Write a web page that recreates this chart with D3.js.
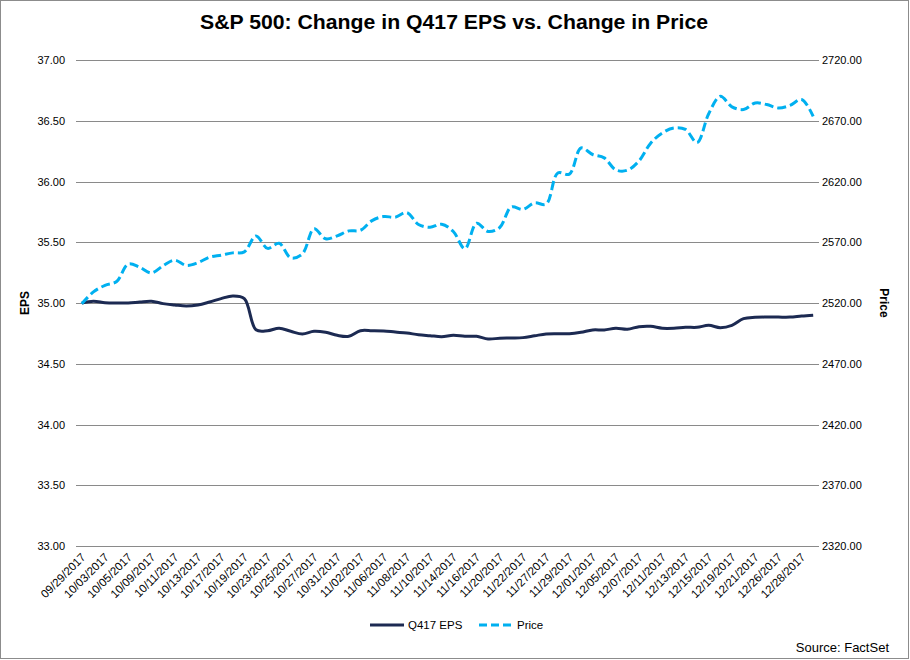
<!DOCTYPE html>
<html>
<head>
<meta charset="utf-8">
<script src="https://cdn.jsdelivr.net/npm/d3@7"></script>
<style>
  html, body { margin: 0; padding: 0; background: #fff; }
  svg { display: block; font-family: "Liberation Sans", Arial, sans-serif; }
</style>
</head>
<body>
<svg id="chart" width="910" height="660"></svg>
<script>
const dates = ["09/29/2017","10/02/2017","10/03/2017","10/04/2017","10/05/2017","10/06/2017","10/09/2017","10/10/2017","10/11/2017","10/12/2017","10/13/2017","10/16/2017","10/17/2017","10/18/2017","10/19/2017","10/20/2017","10/23/2017","10/24/2017","10/25/2017","10/26/2017","10/27/2017","10/30/2017","10/31/2017","11/01/2017","11/02/2017","11/03/2017","11/06/2017","11/07/2017","11/08/2017","11/09/2017","11/10/2017","11/13/2017","11/14/2017","11/15/2017","11/16/2017","11/17/2017","11/20/2017","11/21/2017","11/22/2017","11/24/2017","11/27/2017","11/28/2017","11/29/2017","11/30/2017","12/01/2017","12/04/2017","12/05/2017","12/06/2017","12/07/2017","12/08/2017","12/11/2017","12/12/2017","12/13/2017","12/14/2017","12/15/2017","12/18/2017","12/19/2017","12/20/2017","12/21/2017","12/22/2017","12/26/2017","12/27/2017","12/28/2017","12/29/2017"];

const eps = [35.00,35.014,35.003,35.00,35.00,35.008,35.014,34.995,34.984,34.975,34.984,35.008,35.036,35.058,35.036,34.78,34.772,34.792,34.767,34.745,34.767,34.759,34.734,34.726,34.772,34.772,34.77,34.761,34.753,34.739,34.731,34.723,34.734,34.726,34.726,34.704,34.71,34.712,34.715,34.73,34.745,34.747,34.747,34.759,34.778,34.778,34.792,34.784,34.805,34.808,34.792,34.792,34.80,34.80,34.816,34.797,34.816,34.871,34.882,34.884,34.884,34.884,34.893,34.90];

const price = [2519.36,2529.12,2534.58,2537.74,2552.07,2549.33,2544.73,2550.64,2555.24,2550.93,2553.17,2557.64,2559.36,2561.26,2562.10,2575.21,2564.98,2569.13,2557.15,2560.40,2581.07,2572.83,2575.26,2579.36,2579.85,2587.84,2591.13,2590.64,2594.38,2584.62,2582.30,2584.84,2578.87,2564.62,2585.64,2578.85,2582.14,2599.03,2597.08,2602.42,2601.42,2627.04,2626.07,2647.58,2642.22,2639.44,2629.57,2629.27,2636.98,2651.50,2659.99,2664.11,2662.85,2652.01,2675.81,2690.16,2681.47,2679.25,2684.57,2683.34,2680.50,2682.62,2687.54,2673.61];

const epsTicks = [33.00,33.50,34.00,34.50,35.00,35.50,36.00,36.50,37.00];
const priceTicks = [2320,2370,2420,2470,2520,2570,2620,2670,2720];

const title = "S&P 500: Change in Q417 EPS vs. Change in Price";
const seriesNames = ["Q417 EPS", "Price"];
const sourceText = "Source: FactSet";

const svg = d3.select("#chart");
const L = 76, R = 819, T = 60, B = 546;
const navy = "#1c2a52", blue = "#00b0f0";

// frame
svg.append("rect").attr("x",0.5).attr("y",0.5).attr("width",908).attr("height",658)
  .attr("fill","#fff").attr("stroke","#8c8c8c").attr("stroke-width",1);

const x = d3.scalePoint().domain(dates).range([L, R]).padding(0.5);
const yL = d3.scaleLinear().domain([33, 37]).range([B, T]);
const yR = d3.scaleLinear().domain([2320, 2720]).range([B, T]);

// gridlines
svg.append("g").selectAll("line").data(epsTicks).join("line")
  .attr("x1", L).attr("x2", R)
  .attr("y1", d => Math.round(yL(d)) + 0.5).attr("y2", d => Math.round(yL(d)) + 0.5)
  .attr("stroke", "#8a8a8a").attr("stroke-width", 1);

// left axis
const gL = svg.append("g").attr("transform", `translate(${L - 11},0)`)
  .call(d3.axisLeft(yL).tickValues(epsTicks).tickFormat(d3.format(".2f")).tickSize(0).tickPadding(0));
gL.select(".domain").remove();
gL.selectAll("text").attr("font-size", 11).attr("fill", "#000").attr("font-family", "Liberation Sans, Arial, sans-serif");

// right axis
const gR = svg.append("g").attr("transform", `translate(${R + 3},0)`)
  .call(d3.axisRight(yR).tickValues(priceTicks).tickFormat(d3.format(".2f")).tickSize(0).tickPadding(0));
gR.select(".domain").remove();
gR.selectAll("text").attr("font-size", 11).attr("fill", "#000").attr("font-family", "Liberation Sans, Arial, sans-serif");

// bottom axis
const labelDates = dates.filter((d, i) => i % 2 === 0);
const gB = svg.append("g").attr("transform", `translate(0,${B})`)
  .call(d3.axisBottom(x).tickValues(labelDates).tickSize(0).tickPadding(0));
gB.select(".domain").remove();
gB.selectAll("text")
  .attr("font-size", 11.5).attr("fill", "#000").attr("font-family", "Liberation Sans, Arial, sans-serif")
  .attr("text-anchor", "end").attr("dy", null).attr("y", 0)
  .attr("transform", "translate(4,12) rotate(-45)");

// lines
const curve = d3.curveCatmullRom.alpha(0.5);
const lineEps = d3.line().x((d, i) => x(dates[i])).y(d => yL(d)).curve(curve);
const linePrice = d3.line().x((d, i) => x(dates[i])).y(d => yR(d)).curve(curve);

svg.append("path").datum(eps).attr("d", lineEps)
  .attr("fill", "none").attr("stroke", navy).attr("stroke-width", 3).attr("stroke-linejoin", "round");
svg.append("path").datum(price).attr("d", linePrice)
  .attr("fill", "none").attr("stroke", blue).attr("stroke-width", 3)
  .attr("stroke-dasharray", "9,4").attr("stroke-linejoin", "round");

// title
svg.append("text").attr("x", 454).attr("y", 29).attr("text-anchor", "middle")
  .attr("font-size", 20).attr("font-weight", "bold").attr("fill", "#000")
  .attr("textLength", 508).attr("lengthAdjust", "spacingAndGlyphs").text(title);

// axis titles
svg.append("text").attr("transform", "translate(29,303) rotate(-90)").attr("text-anchor", "middle")
  .attr("font-size", 12).attr("font-weight", "bold").text("EPS");
svg.append("text").attr("transform", "translate(880,303) rotate(90)").attr("text-anchor", "middle")
  .attr("font-size", 12).attr("font-weight", "bold").text("Price");

// legend
const leg = svg.append("g");
leg.append("line").attr("x1", 370).attr("x2", 404).attr("y1", 625).attr("y2", 625)
  .attr("stroke", navy).attr("stroke-width", 3);
leg.append("text").attr("x", 408).attr("y", 629).attr("font-size", 11.5).text(seriesNames[0]);
leg.append("line").attr("x1", 479).attr("x2", 512).attr("y1", 625).attr("y2", 625)
  .attr("stroke", blue).attr("stroke-width", 3).attr("stroke-dasharray", "8,4");
leg.append("text").attr("x", 517).attr("y", 629).attr("font-size", 11.5).text(seriesNames[1]);

// source
svg.append("text").attr("x", 889).attr("y", 652).attr("text-anchor", "end")
  .attr("font-size", 13).text(sourceText);
</script>
</body>
</html>
